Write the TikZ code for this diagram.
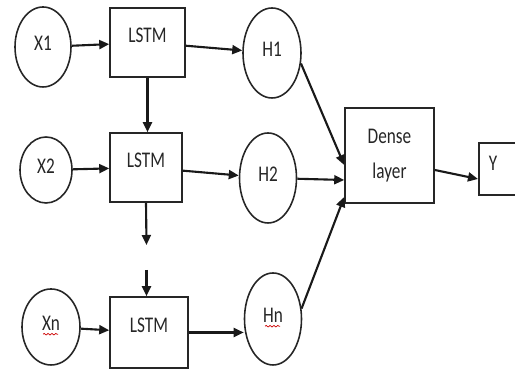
\documentclass[tikz,border=0pt]{standalone}
\usepackage{fontspec}
\setmainfont{Carlito}
\usepackage{graphicx}
\usetikzlibrary{arrows.meta, shapes.geometric, decorations.pathmorphing}

\newcommand{\vtext}[1]{\scalebox{1}[1.3]{#1}}

\begin{document}
\begin{tikzpicture}[
    font=\fontsize{9.8}{20}\selectfont, text=black!85,
    unit/.style={draw=black!85, line width=0.9pt, ellipse, inner sep=0pt, text depth=4.5pt},
    cell/.style={draw=black!85, line width=0.9pt, rectangle, inner sep=0pt},
    lstm/.style={cell, text depth=8pt},
    link/.style={draw=black!90, line width=1.2pt, -{Triangle[length=2mm, width=1.8mm]}},
    squiggle/.style={draw=red!80!black, line width=0.4pt, decorate,
                     decoration={snake, amplitude=0.45pt, segment length=2.2pt}}
  ]
  \useasboundingbox (0,0) rectangle (10.3,7.46);

  % inputs
  \node[unit, minimum width=1.12cm, minimum height=1.6cm]  (x1) at (0.86,6.52) {\vtext{X1}};
  \node[unit, minimum width=1.04cm, minimum height=1.32cm] (x2) at (0.92,4.06) {\vtext{X2}};
  \node[unit, minimum width=1.16cm, minimum height=1.52cm] (xn) at (1.02,0.92) {\vtext{Xn}};

  % lstm cells
  \node[lstm, minimum width=1.5cm,  minimum height=1.38cm] (lstm1) at (2.95,6.61) {\vtext{LSTM}};
  \node[lstm, minimum width=1.44cm, minimum height=1.38cm] (lstm2) at (2.92,4.11) {\vtext{LSTM}};
  \node[lstm, minimum width=1.56cm, minimum height=1.42cm] (lstm3) at (2.98,0.81) {\vtext{LSTM}};

  % hidden states
  \node[unit, minimum width=1.16cm, minimum height=1.8cm]  (h1) at (5.44,6.40) {\vtext{H1}};
  \node[unit, minimum width=1.14cm, minimum height=1.8cm]  (h2) at (5.36,3.90) {\vtext{H2}};
  \node[unit, minimum width=1.14cm, minimum height=1.84cm] (hn) at (5.46,1.08) {\vtext{Hn}};

  % output side
  \node[cell, minimum width=1.78cm, minimum height=1.9cm, align=center]
      (dense) at (7.79,4.35) {\vtext{Dense}\\\vtext{layer}};
  \node[cell, anchor=west, text width=0.9cm, inner xsep=0.2cm, align=left,
        minimum height=1.04cm, text depth=6.8pt]
      (y) at (9.56,4.08) {\vtext{Y}};

  \coordinate (gap1) at (2.93,2.56);
  \coordinate (gap2) at (2.93,2.06);

  \draw[link] (x1) -- (lstm1);
  \draw[link] (x2) -- (lstm2);
  \draw[link] (xn) -- (lstm3);

  \draw[link] (lstm1.south) -- (lstm1.south |- lstm2.north);
  \draw[link] (lstm2.south) -- (gap1);
  \draw[link] (gap2) -- (gap2 |- lstm3.north);

  \draw[link] (lstm1) -- (h1);
  \draw[link] (lstm2) -- (h2);
  \draw[link] (lstm3.east) -- (lstm3.east -| hn.west);

  \draw[link] (h1.-20) -- ([yshift=-0.19cm]dense.west);
  \draw[link] (h2) -- ([yshift=-0.49cm]dense.west);
  \draw[link] (hn.20) -- ([yshift=-0.83cm]dense.west);
  \draw[link] ([yshift=-0.29cm]dense.east) -- ([yshift=-0.2cm]y.west);

  % spell-check marks
  \draw[squiggle] ([xshift=-0.16cm, yshift=-0.08cm]xn.base) -- ([xshift=0.14cm, yshift=-0.08cm]xn.base);
  \draw[squiggle] ([xshift=-0.16cm, yshift=-0.08cm]hn.base) -- ([xshift=0.14cm, yshift=-0.08cm]hn.base);
\end{tikzpicture}
\end{document}
